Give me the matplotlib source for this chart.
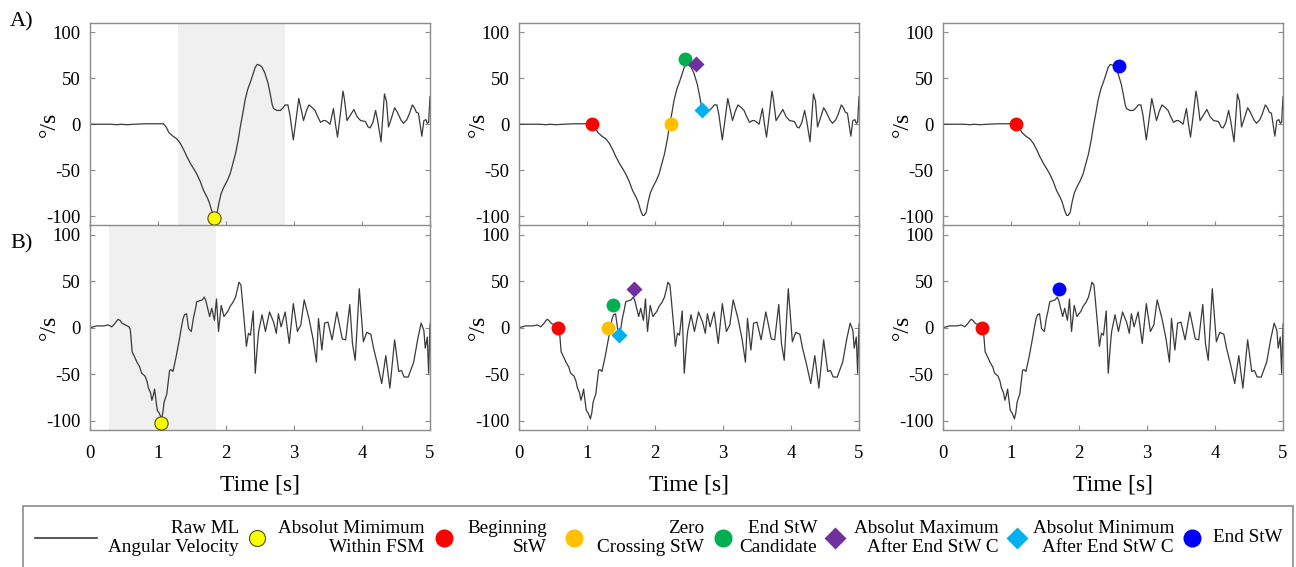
import matplotlib
matplotlib.use('Agg')
import matplotlib.pyplot as plt
from matplotlib.lines import Line2D
from matplotlib.patches import Rectangle

plt.rcParams['font.family'] = ['Liberation Serif', 'DejaVu Serif']
plt.rcParams['axes.unicode_minus'] = False

# Raw ML angular velocity, trial A (time [s], deg/s)
t_a = [0.00, 0.30, 0.40, 0.45, 0.55, 0.65, 0.80, 1.00, 1.08, 1.12, 1.16, 1.22, 1.28, 1.33, 1.38,
       1.43, 1.48, 1.53, 1.57, 1.62, 1.67, 1.72, 1.75, 1.79, 1.82, 1.84, 1.87, 1.90, 1.93, 1.97,
       2.02, 2.06, 2.10, 2.14, 2.18, 2.21, 2.25, 2.28, 2.32, 2.36, 2.40, 2.43, 2.46, 2.50, 2.53,
       2.57, 2.62, 2.65, 2.68, 2.70, 2.75, 2.80, 2.84, 2.87, 2.91, 2.94, 2.99, 3.03, 3.07, 3.10,
       3.14, 3.18, 3.22, 3.27, 3.31, 3.35, 3.39, 3.43, 3.46, 3.50, 3.53, 3.58, 3.61, 3.64, 3.68,
       3.72, 3.74, 3.78, 3.83, 3.88, 3.93, 3.98, 4.05, 4.09, 4.12, 4.16, 4.20, 4.23, 4.28, 4.33,
       4.36, 4.39, 4.43, 4.48, 4.52, 4.57, 4.61, 4.66, 4.70, 4.74, 4.77, 4.80, 4.83, 4.85, 4.88,
       4.91, 4.94, 4.96, 4.98, 5.00]
v_a = [0, 0, -0.5, 0, -0.5, 0, 0.5, 0.5, 0.5, -3, -9, -13, -16, -21, -28,
       -36, -43, -49, -54, -62, -72, -79, -84, -94, -99, -99, -96, -84, -75, -68,
       -61, -54, -43, -32, -17, -3, 13, 26, 38, 46, 55, 62, 65, 64, 62,
       56, 44, 33, 21, 17, 15, 15, 18, 21, 21, 10, -17, 5, 28, 18,
       4, 14, 21, 18, 15, 8, 2, 4, 4, 2, 0, 17, 0, -14, 10,
       36, 28, 4, 10, 16, 8, 4, 3, -3, -4, 2, 15, 4, -19, 33,
       25, -3, 6, 18, 13, 5, 1, 5, 12, 21, 18, 13, 12, 2, -13,
       4, 5, 1, 2, 30]

# Raw ML angular velocity, trial B
t_b = [0.00, 0.05, 0.10, 0.20, 0.27, 0.32, 0.36, 0.41, 0.44, 0.47, 0.52, 0.57, 0.59, 0.60, 0.62,
       0.66, 0.69, 0.73, 0.76, 0.81, 0.84, 0.86, 0.89, 0.91, 0.93, 0.95, 0.97, 0.99, 1.02, 1.05,
       1.07, 1.09, 1.13, 1.17, 1.19, 1.22, 1.25, 1.28, 1.32, 1.35, 1.37, 1.39, 1.42, 1.45, 1.49,
       1.52, 1.55, 1.57, 1.61, 1.65, 1.68, 1.70, 1.72, 1.76, 1.79, 1.83, 1.86, 1.89, 1.93, 1.97,
       2.00, 2.03, 2.06, 2.10, 2.14, 2.17, 2.19, 2.22, 2.24, 2.26, 2.30, 2.33, 2.36, 2.40, 2.43,
       2.46, 2.48, 2.53, 2.58, 2.64, 2.70, 2.74, 2.77, 2.81, 2.87, 2.93, 2.99, 3.05, 3.10, 3.15,
       3.22, 3.28, 3.33, 3.36, 3.41, 3.45, 3.50, 3.56, 3.63, 3.71, 3.76, 3.82, 3.86, 3.90, 3.96,
       4.02, 4.07, 4.13, 4.17, 4.23, 4.29, 4.35, 4.41, 4.48, 4.54, 4.58, 4.62, 4.68, 4.76, 4.82,
       4.87, 4.91, 4.93, 4.96, 4.98, 5.00]
v_b = [0, 1, 2, 2, 3, 1, 4, 9, 8, 5, 3, 1, -1, -8, -26,
       -32, -37, -42, -49, -52, -58, -65, -70, -78, -73, -66, -78, -89, -92, -98,
       -92, -80, -71, -46, -45, -47, -37, -26, -10, 3, 10, 14, 15, -1, -4,
       10, 20, 28, 29, 30, 33, 30, 24, 12, 21, 8, 31, -4, 24, 12,
       15, 18, 23, 27, 33, 42, 49, 46, 30, 14, -20, -6, -8, 18, -49,
       -20, -4, 14, -4, 17, 6, -6, 15, 1, 17, -17, 26, -4, 3, 30,
       10, -12, -37, 10, -24, 5, 6, -13, 17, -12, -13, 25, -17, -35, 42,
       -15, -5, -7, -22, -40, -60, -30, -65, -13, -47, -46, -53, -53, -37, -12,
       5, -3, -22, -10, -49, 4]

# FSM windows (start, end) [s]
fsm_a = (1.30, 2.87)
fsm_b = (0.28, 1.86)

# Detected events (time, value) per trial
abs_min_a = (1.82, -102)
abs_min_b = (1.05, -103)
begin_a = (1.08, 0)
begin_b = (0.57, 0)
zero_a = (2.24, 0)
zero_b = (1.31, 0)
end_cand_a = (2.44, 71)
end_cand_b = (1.38, 24)
max_after_a = (2.61, 65)
max_after_b = (1.69, 42)
min_after_a = (2.69, 15)
min_after_b = (1.47, -8)
end_a = (2.59, 63)
end_b = (1.70, 42)

legend_labels = ['Raw ML\nAngular Velocity', 'Absolut Mimimum\nWithin FSM', 'Beginning\nStW',
                 'Zero\nCrossing StW', 'End StW\nCandidate', 'Absolut Maximum\nAfter End StW C',
                 'Absolut Minimum\nAfter End StW C', 'End StW']

# styles
LINE_COLOR = '#3a3a3a'
SPINE_COLOR = '#8c8c8c'
styles = {
    'absmin': dict(marker='o', color='#ffff00', ms=9.5, mec='#505000', mew=0.8),
    'begin': dict(marker='o', color='#ff0000', ms=10, mec='none'),
    'zero': dict(marker='o', color='#ffc000', ms=10, mec='none'),
    'endc': dict(marker='o', color='#00b050', ms=10, mec='none'),
    'maxa': dict(marker='D', color='#7030a0', ms=8.5, mec='none'),
    'mina': dict(marker='D', color='#00b0f0', ms=8.5, mec='none'),
    'end': dict(marker='o', color='#0000ff', ms=10, mec='none'),
}

W, H = 1296, 567
fig = plt.figure(figsize=(W / 100, H / 100), dpi=100)

col_left = [90, 519, 943]
ax_w = 340
rows = [(23, 225.5), (225.5, 430)]

axes = []
for r, (top, bot) in enumerate(rows):
    row = []
    for left in col_left:
        ax = fig.add_axes([left / W, 1 - bot / H, ax_w / W, (bot - top) / H])
        row.append(ax)
    axes.append(row)

signals = [(t_a, v_a), (t_b, v_b)]
fsm = [fsm_a, fsm_b]
events = [
    [[('absmin', abs_min_a)],
     [('begin', begin_a), ('zero', zero_a), ('endc', end_cand_a), ('maxa', max_after_a), ('mina', min_after_a)],
     [('begin', begin_a), ('end', end_a)]],
    [[('absmin', abs_min_b)],
     [('begin', begin_b), ('zero', zero_b), ('endc', end_cand_b), ('maxa', max_after_b), ('mina', min_after_b)],
     [('begin', begin_b), ('end', end_b)]],
]

for r in range(2):
    t, v = signals[r]
    for c in range(3):
        ax = axes[r][c]
        if c == 0:
            ax.axvspan(fsm[r][0], fsm[r][1], color='#f0f0f0', lw=0, zorder=0)
        ax.plot(t, v, color=LINE_COLOR, lw=0.9, zorder=2)
        for key, (et, ev) in events[r][c]:
            ax.plot([et], [ev], ls='none', zorder=3, clip_on=False, **styles[key])
        ax.set_xlim(0, 5)
        ax.set_ylim(-110, 110)
        ax.set_yticks([-100, -50, 0, 50, 100])
        ax.set_xticks([0, 1, 2, 3, 4, 5])
        ax.tick_params(direction='in', length=3.5, width=0.8, color=SPINE_COLOR,
                       right=True, labelsize=13.5)
        ax.tick_params(axis='y', pad=7)
        ax.tick_params(axis='x', pad=11)
        for s in ax.spines.values():
            s.set_color(SPINE_COLOR)
            s.set_linewidth(1)
        ax.set_ylabel('°/s', fontsize=17)
        ax.yaxis.set_label_coords(-0.09, 0.5)
        if r == 0:
            ax.tick_params(labelbottom=False)
        else:
            ax.set_xlabel('Time [s]', fontsize=17, labelpad=9)

fig.text(10 / W, 1 - 22 / H, 'A)', fontsize=16, va='center', ha='left')
fig.text(10 / W, 1 - 244 / H, 'B)', fontsize=16, va='center', ha='left')

# Legend (drawn by hand to mimic the original layout)
fig.add_artist(Rectangle((23 / W, -0.05), 1270 / W, 0.05 + 61 / H, transform=fig.transFigure,
                         fill=False, ec=SPINE_COLOR, lw=1.2))
ly = 1 - 538 / H
fig.add_artist(Line2D([35 / W, 97 / W], [ly, ly], transform=fig.transFigure, color=LINE_COLOR, lw=1.2))
handle_x = [257, 444, 574, 723, 835, 1017, 1192]
handle_keys = ['absmin', 'begin', 'zero', 'endc', 'maxa', 'mina', 'end']
for hx, key in zip(handle_x, handle_keys):
    st = dict(styles[key])
    st['ms'] = st['ms'] * 1.3 if key != 'absmin' else 11.5
    fig.add_artist(Line2D([hx / W], [ly], transform=fig.transFigure, ls='none', **st))
text_right = [239, 424, 547, 704, 817, 999, 1174]
for xr, lab in zip(text_right, legend_labels[:-1]):
    fig.text(xr / W, ly, lab, ha='right', va='center', multialignment='right',
             fontsize=13.8, linespacing=1.2)
fig.text(1213 / W, ly, legend_labels[-1], ha='left', va='center', fontsize=13.8)

fig.savefig('out.png', dpi=100)
